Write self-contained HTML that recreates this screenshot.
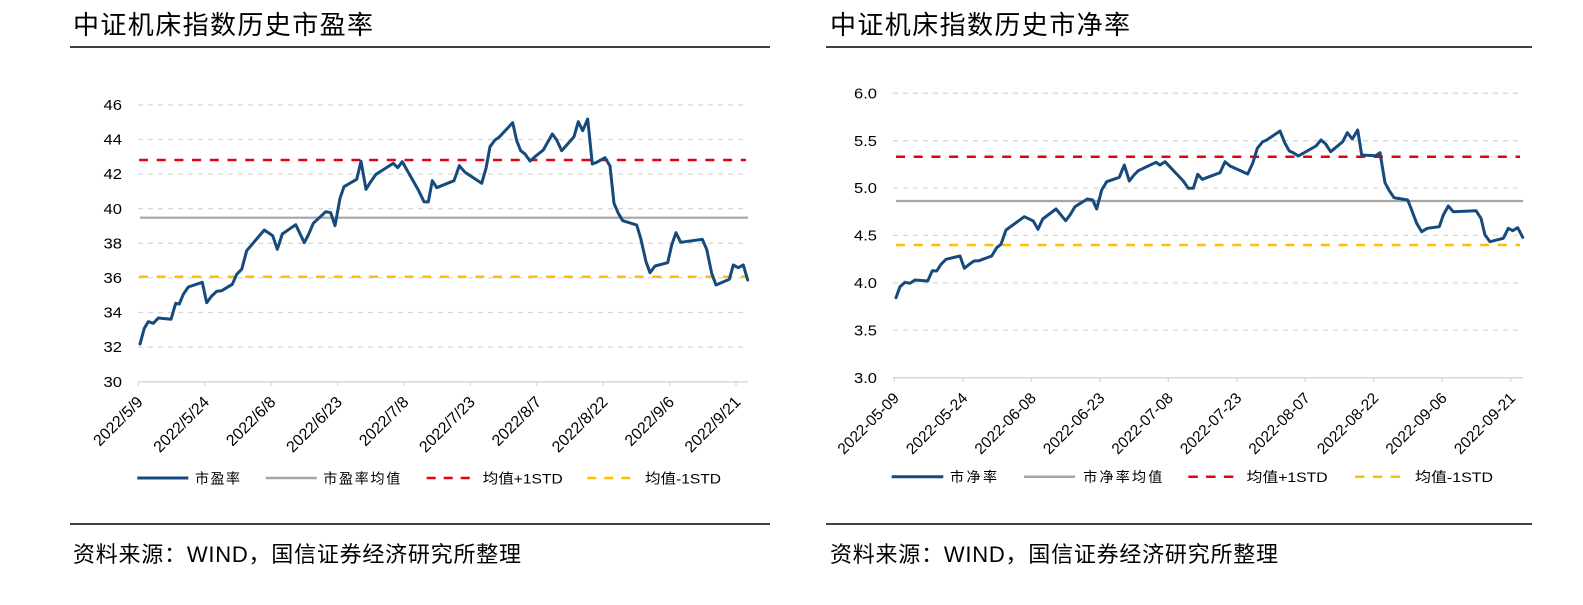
<!DOCTYPE html>
<html><head><meta charset="utf-8"><style>
html,body{margin:0;padding:0;background:#fff;}
svg{display:block;}
.t{font-family:"Liberation Sans","Noto Sans CJK SC",sans-serif;}
</style></head><body>
<svg width="1583" height="605" viewBox="0 0 1583 605" xmlns="http://www.w3.org/2000/svg">
<rect width="1583" height="605" fill="#fff"/>
<!-- Titles -->
<text class="t" x="73" y="34" font-size="26" fill="#000" textLength="300">中证机床指数历史市盈率</text>
<text class="t" x="830" y="34" font-size="26" fill="#000" textLength="300">中证机床指数历史市净率</text>
<line x1="70" y1="47" x2="770" y2="47" stroke="#000" stroke-width="1.4"/>
<line x1="826" y1="47" x2="1532" y2="47" stroke="#000" stroke-width="1.4"/>
<!-- Footer -->
<line x1="70" y1="524" x2="770" y2="524" stroke="#000" stroke-width="1.4"/>
<line x1="826" y1="524" x2="1532" y2="524" stroke="#000" stroke-width="1.4"/>
<text class="t" x="73" y="562" font-size="22" fill="#000" textLength="448">资料来源：WIND，国信证券经济研究所整理</text>
<text class="t" x="830" y="562" font-size="22" fill="#000" textLength="448">资料来源：WIND，国信证券经济研究所整理</text>

<!-- LEFT CHART -->
<g stroke="#D9D9D9" stroke-width="1.3" stroke-dasharray="5 5">
<line x1="138" y1="104.9" x2="747" y2="104.9"/>
<line x1="138" y1="139.5" x2="747" y2="139.5"/>
<line x1="138" y1="174.1" x2="747" y2="174.1"/>
<line x1="138" y1="208.7" x2="747" y2="208.7"/>
<line x1="138" y1="243.3" x2="747" y2="243.3"/>
<line x1="138" y1="277.9" x2="747" y2="277.9"/>
<line x1="138" y1="312.5" x2="747" y2="312.5"/>
<line x1="138" y1="347.1" x2="747" y2="347.1"/>
</g>
<line x1="138" y1="381.7" x2="748" y2="381.7" stroke="#D9D9D9" stroke-width="1.5"/>
<g stroke="#D9D9D9" stroke-width="1.3">
<line x1="138.3" y1="381.7" x2="138.3" y2="386"/>
<line x1="204.7" y1="381.7" x2="204.7" y2="386"/>
<line x1="271.1" y1="381.7" x2="271.1" y2="386"/>
<line x1="337.6" y1="381.7" x2="337.6" y2="386"/>
<line x1="404" y1="381.7" x2="404" y2="386"/>
<line x1="470.4" y1="381.7" x2="470.4" y2="386"/>
<line x1="536.8" y1="381.7" x2="536.8" y2="386"/>
<line x1="603.2" y1="381.7" x2="603.2" y2="386"/>
<line x1="669.7" y1="381.7" x2="669.7" y2="386"/>
<line x1="736" y1="381.7" x2="736" y2="386"/>
</g>
<g class="t" font-size="14.5" fill="#000" text-anchor="end">
<text x="122" y="110" textLength="18.5" lengthAdjust="spacingAndGlyphs">46</text>
<text x="122" y="144.6" textLength="18.5" lengthAdjust="spacingAndGlyphs">44</text>
<text x="122" y="179.2" textLength="18.5" lengthAdjust="spacingAndGlyphs">42</text>
<text x="122" y="213.8" textLength="18.5" lengthAdjust="spacingAndGlyphs">40</text>
<text x="122" y="248.4" textLength="18.5" lengthAdjust="spacingAndGlyphs">38</text>
<text x="122" y="283" textLength="18.5" lengthAdjust="spacingAndGlyphs">36</text>
<text x="122" y="317.6" textLength="18.5" lengthAdjust="spacingAndGlyphs">34</text>
<text x="122" y="352.2" textLength="18.5" lengthAdjust="spacingAndGlyphs">32</text>
<text x="122" y="386.8" textLength="18.5" lengthAdjust="spacingAndGlyphs">30</text>
</g>
<g class="t" font-size="16" fill="#000" text-anchor="end">
<text transform="translate(143.8,403) rotate(-45)">2022/5/9</text>
<text transform="translate(210.2,403) rotate(-45)">2022/5/24</text>
<text transform="translate(276.6,403) rotate(-45)">2022/6/8</text>
<text transform="translate(343.1,403) rotate(-45)">2022/6/23</text>
<text transform="translate(409.5,403) rotate(-45)">2022/7/8</text>
<text transform="translate(475.9,403) rotate(-45)">2022/7/23</text>
<text transform="translate(542.3,403) rotate(-45)">2022/8/7</text>
<text transform="translate(608.7,403) rotate(-45)">2022/8/22</text>
<text transform="translate(675.2,403) rotate(-45)">2022/9/6</text>
<text transform="translate(741.5,403) rotate(-45)">2022/9/21</text>
</g>
<line x1="139" y1="160" x2="746" y2="160" stroke="#E50012" stroke-width="2.5" stroke-dasharray="9 8.7"/>
<line x1="140" y1="217.7" x2="748" y2="217.7" stroke="#A6A6A6" stroke-width="2.2"/>
<line x1="139" y1="276.7" x2="746" y2="276.7" stroke="#FFC000" stroke-width="2.5" stroke-dasharray="9 8.7"/>
<polyline fill="none" stroke="#174A7C" stroke-width="3" stroke-linejoin="round" stroke-linecap="round" points="140,344 144.3,328.3 148.3,321.7 153.3,323.3 158.3,318 171,319.3 175.7,303.3 179.3,304 183.3,294.3 188.3,287 202.3,282.3 206.7,302.7 211.7,296 216.7,291.3 221.7,290.7 232.3,284.3 236.7,274.3 241.7,269.3 246.7,250.7 264.3,230 272.7,235.7 277.3,249.3 282.3,234 295.7,224.7 304.3,242.7 308.3,235 313.3,223.3 325.7,211.7 330.7,212.7 335,225.7 340,198.3 344,186.7 356.7,179.3 361,161.3 366,189.3 370.7,181.7 376,174.3 393.3,163.3 397.7,167.7 402.3,161.7 418.3,190 424,201.7 428.3,202 432.3,180.7 436.7,187.7 454,180.7 459.3,165.7 465,172.3 481.7,183.3 486,168.3 490,146.7 495,140 499,137.3 512.7,122.7 516.7,140.7 520.7,150.7 525,154 530,161 535,156.7 543.3,150 552.3,134 556.7,140 561.7,150.7 574,136.7 578.3,121.7 582.7,130.7 587.7,119 592.3,164 596.7,162.3 605,157.7 610,166 614,203.3 618.3,213.3 622.7,220.7 636.7,225 640.7,238.3 646,261.7 650,272.7 655,266 667.7,262.7 671.7,245 676,232.7 680.7,242.3 702.3,239.3 706.7,249.3 711.7,273.3 716,285 729.3,279.3 733.3,265 738.3,267.7 743.3,265 747.7,280"/>
<!-- left legend -->
<line x1="137.3" y1="478" x2="188.3" y2="478" stroke="#174A7C" stroke-width="3"/>
<text class="t" x="195" y="483.5" font-size="14" fill="#000" textLength="45">市盈率</text>
<line x1="265.7" y1="478" x2="316.7" y2="478" stroke="#A6A6A6" stroke-width="2.5"/>
<text class="t" x="323.3" y="483.5" font-size="14" fill="#000" textLength="77">市盈率均值</text>
<line x1="426.7" y1="478" x2="469.7" y2="478" stroke="#E50012" stroke-width="2.5" stroke-dasharray="9 8"/>
<text class="t" x="482.7" y="483.5" font-size="14" fill="#000" textLength="80" lengthAdjust="spacingAndGlyphs">均值+1STD</text>
<line x1="587.3" y1="478" x2="630.3" y2="478" stroke="#FFC000" stroke-width="2.5" stroke-dasharray="9 8"/>
<text class="t" x="645" y="483.5" font-size="14" fill="#000" textLength="76" lengthAdjust="spacingAndGlyphs">均值-1STD</text>

<!-- RIGHT CHART -->
<g stroke="#D9D9D9" stroke-width="1.3" stroke-dasharray="5 5">
<line x1="893" y1="93.3" x2="1520" y2="93.3"/>
<line x1="893" y1="140.7" x2="1520" y2="140.7"/>
<line x1="893" y1="188" x2="1520" y2="188"/>
<line x1="893" y1="235.4" x2="1520" y2="235.4"/>
<line x1="893" y1="282.8" x2="1520" y2="282.8"/>
<line x1="893" y1="330.1" x2="1520" y2="330.1"/>
</g>
<line x1="893" y1="377.7" x2="1523" y2="377.7" stroke="#D9D9D9" stroke-width="1.5"/>
<g stroke="#D9D9D9" stroke-width="1.3">
<line x1="894.3" y1="377.7" x2="894.3" y2="382"/>
<line x1="962.8" y1="377.7" x2="962.8" y2="382"/>
<line x1="1031.3" y1="377.7" x2="1031.3" y2="382"/>
<line x1="1099.8" y1="377.7" x2="1099.8" y2="382"/>
<line x1="1168.3" y1="377.7" x2="1168.3" y2="382"/>
<line x1="1236.8" y1="377.7" x2="1236.8" y2="382"/>
<line x1="1305.2" y1="377.7" x2="1305.2" y2="382"/>
<line x1="1373.7" y1="377.7" x2="1373.7" y2="382"/>
<line x1="1442.2" y1="377.7" x2="1442.2" y2="382"/>
<line x1="1510.7" y1="377.7" x2="1510.7" y2="382"/>
</g>
<g class="t" font-size="14.5" fill="#000" text-anchor="end">
<text x="877" y="98.5" textLength="23" lengthAdjust="spacingAndGlyphs">6.0</text>
<text x="877" y="145.9" textLength="23" lengthAdjust="spacingAndGlyphs">5.5</text>
<text x="877" y="193.2" textLength="23" lengthAdjust="spacingAndGlyphs">5.0</text>
<text x="877" y="240.6" textLength="23" lengthAdjust="spacingAndGlyphs">4.5</text>
<text x="877" y="288" textLength="23" lengthAdjust="spacingAndGlyphs">4.0</text>
<text x="877" y="335.3" textLength="23" lengthAdjust="spacingAndGlyphs">3.5</text>
<text x="877" y="382.9" textLength="23" lengthAdjust="spacingAndGlyphs">3.0</text>
</g>
<g class="t" font-size="15.5" fill="#000" text-anchor="end">
<text transform="translate(900,399) rotate(-45)">2022-05-09</text>
<text transform="translate(968.5,399) rotate(-45)">2022-05-24</text>
<text transform="translate(1037,399) rotate(-45)">2022-06-08</text>
<text transform="translate(1105.5,399) rotate(-45)">2022-06-23</text>
<text transform="translate(1174,399) rotate(-45)">2022-07-08</text>
<text transform="translate(1242.5,399) rotate(-45)">2022-07-23</text>
<text transform="translate(1311,399) rotate(-45)">2022-08-07</text>
<text transform="translate(1379.4,399) rotate(-45)">2022-08-22</text>
<text transform="translate(1447.9,399) rotate(-45)">2022-09-06</text>
<text transform="translate(1516.4,399) rotate(-45)">2022-09-21</text>
</g>
<line x1="896" y1="156.7" x2="1520" y2="156.7" stroke="#E50012" stroke-width="2.5" stroke-dasharray="9 8.7"/>
<line x1="896" y1="201" x2="1523" y2="201" stroke="#A6A6A6" stroke-width="2.2"/>
<line x1="896" y1="245" x2="1520" y2="245" stroke="#FFC000" stroke-width="2.5" stroke-dasharray="9 8.7"/>
<polyline fill="none" stroke="#174A7C" stroke-width="3" stroke-linejoin="round" stroke-linecap="round" points="896,297.7 900,286.7 905,282.3 910,283.3 915,280 927.7,281 932.3,270.7 936.7,271 941,264.3 946,259.3 960,256 964.3,268.3 969.3,264.3 974,261 979,260.7 991.7,256 996.7,247.7 1001,244.3 1006,230 1024.3,216.7 1033.3,221 1038,229.3 1042.7,219 1056,209 1065.7,220.7 1070,215 1075,206.7 1087.3,199 1092.7,200 1096.7,209 1101.7,190 1106.7,181.7 1119.3,177.3 1124.3,165 1129.3,181 1134,175 1138.3,170.7 1156,162.3 1160,165 1165,161.7 1183.3,181 1188.3,188.3 1193.3,188.3 1197.7,174.3 1202.3,179.3 1220,172.7 1225,161.7 1230,166 1247.7,174 1252.7,163.3 1257.3,148.3 1262.7,141.7 1266.7,140 1280,131 1285,143.3 1289.3,151 1293.3,152.7 1298.3,156 1316,146 1321,140 1325.7,144 1330.7,151.7 1342.7,141.7 1347.3,132.7 1352.3,139 1357.7,130 1361.7,155 1375.7,155.7 1380,152.7 1385,182.7 1389.3,190.7 1394,197.7 1407.7,200 1411,208.3 1416.7,223.3 1421.7,231.7 1427.3,228.3 1439.3,226.7 1443.3,215 1448.3,206 1453.3,211.7 1476,210.7 1481,218.3 1485,235 1490,241.7 1503.3,238.3 1508.3,228.3 1512.7,230.7 1517.7,227.7 1522.7,237.3"/>
<!-- right legend -->
<line x1="891.7" y1="476.7" x2="943.3" y2="476.7" stroke="#174A7C" stroke-width="3"/>
<text class="t" x="950" y="482.2" font-size="14" fill="#000" textLength="47">市净率</text>
<line x1="1024" y1="476.7" x2="1075" y2="476.7" stroke="#A6A6A6" stroke-width="2.5"/>
<text class="t" x="1083.3" y="482.2" font-size="14" fill="#000" textLength="79">市净率均值</text>
<line x1="1188.3" y1="476.7" x2="1233.3" y2="476.7" stroke="#E50012" stroke-width="2.5" stroke-dasharray="9.5 8.3"/>
<text class="t" x="1246.7" y="482.2" font-size="14" fill="#000" textLength="81" lengthAdjust="spacingAndGlyphs">均值+1STD</text>
<line x1="1355" y1="476.7" x2="1400" y2="476.7" stroke="#FFC000" stroke-width="2.5" stroke-dasharray="9.5 8.3"/>
<text class="t" x="1415" y="482.2" font-size="14" fill="#000" textLength="78" lengthAdjust="spacingAndGlyphs">均值-1STD</text>
</svg>
</body></html>
